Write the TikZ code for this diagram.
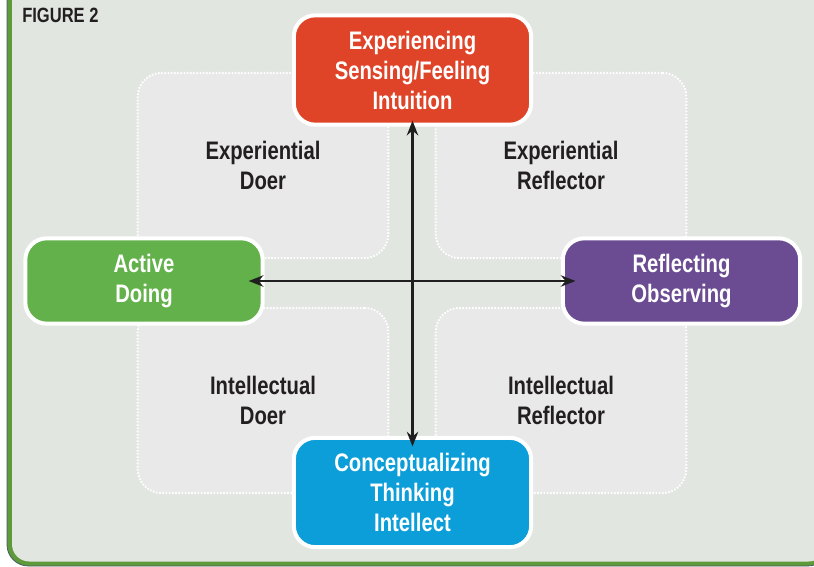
\documentclass[tikz,border=0pt]{standalone}
\usepackage{fontspec}
\setmainfont{Liberation Sans}[FakeStretch=0.8]
\usetikzlibrary{arrows.meta}

\definecolor{bgcol}{RGB}{225,230,224}
\definecolor{framegreen}{RGB}{94,154,58}
\definecolor{frameedge}{RGB}{72,92,100}
\definecolor{quadfill}{RGB}{233,233,233}
\definecolor{redbox}{RGB}{224,68,40}
\definecolor{greenbox}{RGB}{99,177,74}
\definecolor{purplebox}{RGB}{107,76,147}
\definecolor{bluebox}{RGB}{12,158,217}
\definecolor{inktext}{RGB}{35,31,32}

\tikzset{
  modebox/.style={draw=white, line width=3pt, rounded corners=16pt, text=white, align=center,
    minimum width=178pt, inner sep=0pt, font=\fontsize{19}{22.5}\selectfont\bfseries},
  quadbox/.style={fill=quadfill, draw=white, dash pattern=on 1.2pt off 1.2pt, line width=1.4pt,
    rounded corners=18pt, minimum width=188pt, minimum height=139pt, inner sep=0pt,
    align=center, text=inktext, font=\fontsize{19}{23}\selectfont\bfseries},
  axis/.style={line width=2.2pt, draw=black!88, {Stealth[length=11pt,width=8.5pt]}-{Stealth[length=11pt,width=8.5pt]}}
}

\begin{document}
\begin{tikzpicture}[x=0.75pt,y=0.75pt,yscale=-1,xscale=1]
\useasboundingbox (0,0) rectangle (814,567);
\clip (0,0) rectangle (814,567);

%Frame
\fill[white] (0,0) rectangle (814,567);
\draw[fill=framegreen, draw=frameedge, line width=0.6pt, rounded corners=16pt] (7,-40) rectangle (829,566);
\fill[bgcol, rounded corners=13pt] (12,-40) rectangle (826,561.5);

% Text Node
\node[anchor=base west, inner sep=0pt, text=inktext, font=\fontsize{15.5}{18}\selectfont\bfseries] (figlabel) at (22,23) {FIGURE 2};

%Quadrants
\node[quadbox] (expdoer) at (263,165.5) {Experiential\\Doer};
\node[quadbox] (expreflector) at (561,165.5) {Experiential\\Reflector};
\node[quadbox] (intdoer) at (263,400.5) {Intellectual\\Doer};
\node[quadbox] (intreflector) at (561,400.5) {Intellectual\\Reflector};

%Modes
\node[modebox, fill=redbox, minimum height=82pt] (experiencing) at (412.5,70) {Experiencing\\Sensing/Feeling\\Intuition};
\node[modebox, fill=greenbox, minimum height=64pt] (active) at (144,281) {Active\\Doing};
\node[modebox, fill=purplebox, minimum height=64pt] (reflecting) at (681.5,281) {Reflecting\\Observing};
\node[modebox, fill=bluebox, minimum height=82pt] (conceptualizing) at (412.5,492.5) {Conceptualizing\\Thinking\\Intellect};

%Axes
\draw[axis, shorten <=-4.5pt, shorten >=-8pt] (experiencing.south) -- (conceptualizing.north);
\draw[axis, shorten <=-12pt, shorten >=-11pt] (active.east) -- (reflecting.west);

\end{tikzpicture}
\end{document}
